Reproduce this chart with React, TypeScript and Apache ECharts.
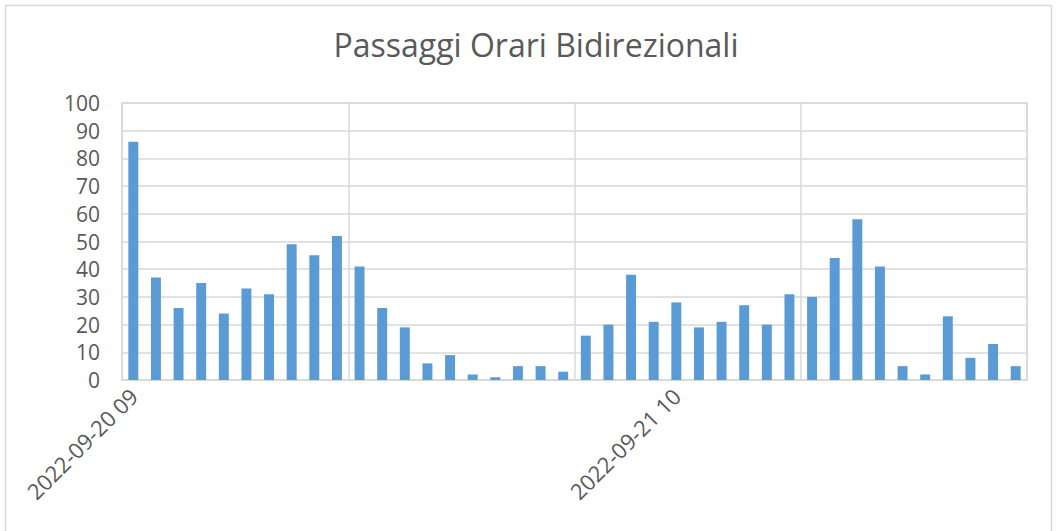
import React, { useEffect, useRef } from "react";
import * as echarts from "echarts";

const TITLE = "Passaggi Orari Bidirezionali";

const categories: string[] = [
  "2022-09-20 09", "2022-09-20 10", "2022-09-20 11", "2022-09-20 12", "2022-09-20 13",
  "2022-09-20 14", "2022-09-20 15", "2022-09-20 16", "2022-09-20 17", "2022-09-20 18",
  "2022-09-20 19", "2022-09-20 20", "2022-09-20 21", "2022-09-20 22", "2022-09-20 23",
  "2022-09-21 00", "2022-09-21 02", "2022-09-21 03", "2022-09-21 04", "2022-09-21 05",
  "2022-09-21 06", "2022-09-21 07", "2022-09-21 08", "2022-09-21 09", "2022-09-21 10",
  "2022-09-21 11", "2022-09-21 12", "2022-09-21 13", "2022-09-21 14", "2022-09-21 15",
  "2022-09-21 16", "2022-09-21 17", "2022-09-21 18", "2022-09-21 19", "2022-09-21 20",
  "2022-09-21 21", "2022-09-21 22", "2022-09-21 23", "2022-09-22 00", "2022-09-22 01",
];

const passaggi: number[] = [
  86, 37, 26, 35, 24, 33, 31, 49, 45, 52,
  41, 26, 19, 6, 9, 2, 1, 5, 5, 3,
  16, 20, 38, 21, 28, 19, 21, 27, 20, 31,
  30, 44, 58, 41, 5, 2, 23, 8, 13, 5,
];

const yTicks = { min: 0, max: 100, interval: 10 };

export default function App() {
  const ref = useRef<HTMLDivElement>(null);

  useEffect(() => {
    document.body.style.margin = "0";
    if (!ref.current) return;
    const chart = echarts.init(ref.current, null, { renderer: "svg" });
    const font = "'Open Sans', 'Noto Sans', sans-serif";
    chart.setOption({
      animation: false,
      backgroundColor: "#ffffff",
      title: {
        text: TITLE,
        left: 531,
        top: 23,
        textAlign: "center",
        textStyle: {
          fontFamily: font,
          fontSize: 32,
          fontWeight: "normal",
          color: "#595959",
        },
      },
      graphic: [
        {
          type: "rect",
          shape: { x: 5.5, y: 5.5, width: 1046, height: 600 },
          style: { fill: "none", stroke: "#d9d9d9", lineWidth: 1.5 },
          silent: true,
        },
      ],
      grid: {
        left: 122,
        right: 1057 - 1027,
        top: 103,
        bottom: 531 - 380,
        show: true,
        borderColor: "#d9d9d9",
        borderWidth: 1.5,
        containLabel: false,
      },
      xAxis: {
        type: "category",
        data: categories,
        boundaryGap: true,
        axisLine: { show: true, lineStyle: { color: "#d9d9d9", width: 1.5 } },
        axisTick: { show: false },
        splitLine: {
          show: true,
          interval: (index: number) => index % 10 === 0,
          lineStyle: { color: "#d9d9d9", width: 1.5 },
        },
        axisLabel: {
          interval: (index: number) => index % 24 === 0,
          rotate: 45,
          margin: 12,
          fontFamily: font,
          fontSize: 22,
          color: "#595959",
        },
      },
      yAxis: {
        type: "value",
        min: yTicks.min,
        max: yTicks.max,
        interval: yTicks.interval,
        axisLine: { show: false },
        axisTick: { show: false },
        splitLine: { show: true, lineStyle: { color: "#d9d9d9", width: 1.5 } },
        axisLabel: {
          margin: 22,
          fontFamily: font,
          fontSize: 21,
          color: "#595959",
        },
      },
      series: [
        {
          type: "bar",
          data: passaggi,
          barWidth: "44%",
          itemStyle: { color: "#5b9bd5" },
        },
      ],
    });
    return () => chart.dispose();
  }, []);

  return (
    <div
      ref={ref}
      style={{ position: "fixed", left: 0, top: 0, width: 1057, height: 531 }}
    />
  );
}
